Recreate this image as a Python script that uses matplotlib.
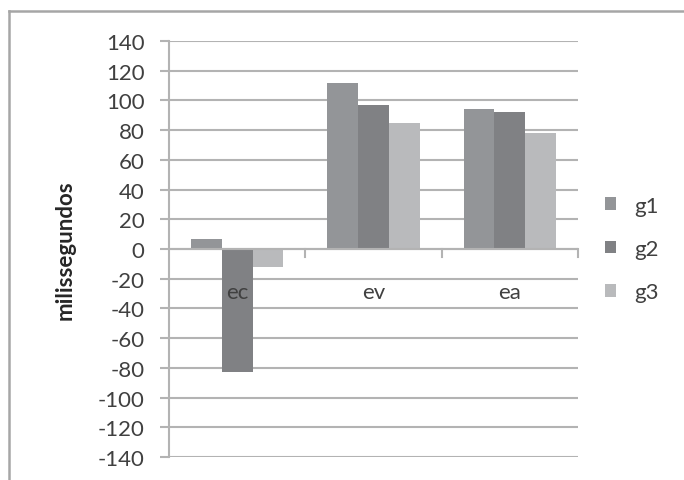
import numpy as np
import matplotlib
matplotlib.use("Agg")
import matplotlib.pyplot as plt
from matplotlib.lines import Line2D

plt.rcParams['font.family'] = ['Lato', 'DejaVu Sans']

# Tempos medios por condicao e grupo
categorias = ["ec", "ev", "ea"]
series = ["g1", "g2", "g3"]
g1 = [7, 112, 94]
g2 = [-83, 97, 92]
g3 = [-12, 85, 78]
valores = [g1, g2, g3]
cores = ["#939598", "#808184", "#b9babc"]
yticks = list(range(-140, 141, 20))

W, H = 684, 481
fig = plt.figure(figsize=(W / 100, H / 100), dpi=100)
ax = fig.add_axes([169 / W, 1 - 458 / H, (578 - 169) / W, (458 - 42) / H])

grid_c = "#b3b3b3"
txt_c = "#404040"
fs = 16

x = np.arange(len(categorias))
larg = 0.225
for i, (nome, vals, cor) in enumerate(zip(series, valores, cores)):
    ax.bar(x + (i - 1) * larg, vals, larg, color=cor, label=nome, zorder=3)

ax.set_xlim(-0.5, len(categorias) - 0.5)
ax.set_ylim(-140, 140)
ax.set_yticks(yticks)
ax.set_yticklabels([str(v) for v in yticks], fontsize=fs, color=txt_c)
ax.yaxis.grid(True, color=grid_c, linewidth=1.5, zorder=0)
ax.tick_params(axis='y', length=6.5, width=1.5, color=grid_c, pad=11)
ax.set_xticks([])

for s in ["top", "right", "bottom"]:
    ax.spines[s].set_visible(False)
ax.spines["left"].set_color(grid_c)
ax.spines["left"].set_linewidth(1.5)

# eixo das categorias sobre o zero
ax.axhline(0, color=grid_c, linewidth=1.5, zorder=4)
for b in np.arange(0.5, len(categorias), 1.0):
    ax.plot([b, b], [0, -5.5], color=grid_c, linewidth=1.5, zorder=4, clip_on=False)
for xi, cat in zip(x, categorias):
    ax.text(xi, -29, cat, ha="center", va="center", fontsize=fs, color=txt_c, zorder=5)

ax.set_ylabel("milissegundos", fontsize=fs, fontweight="bold", color="#262626", labelpad=16)

leg = ax.legend(loc="center left", bbox_to_anchor=(1.045, 0.5), frameon=False,
                fontsize=fs, handlelength=0.5, handleheight=0.5, handletextpad=0.8,
                labelspacing=1.05, borderaxespad=0)
for t in leg.get_texts():
    t.set_color(txt_c)

# moldura do grafico
bc = "#a6a6a6"
fig.add_artist(Line2D([9 / W, 9 / W], [0, 1 - 12 / H], color=bc, linewidth=1.8,
                      transform=fig.transFigure))
fig.add_artist(Line2D([9 / W, 1], [1 - 12 / H, 1 - 12 / H], color=bc, linewidth=1.8,
                      transform=fig.transFigure))

fig.savefig("out.png", dpi=100)
